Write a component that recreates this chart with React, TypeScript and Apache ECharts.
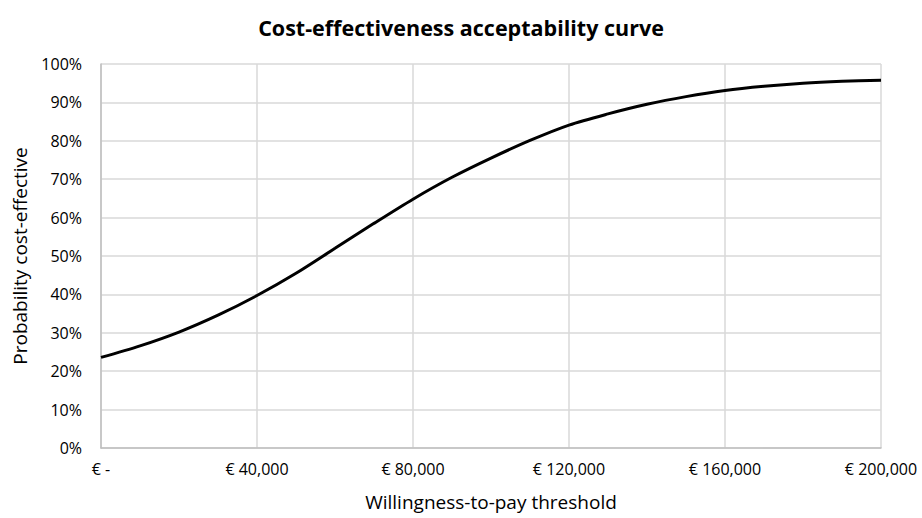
import React, { useEffect, useRef } from "react";
import * as echarts from "echarts";

const thresholds = [0, 10000, 20000, 30000, 40000, 50000, 60000, 70000, 80000, 90000, 100000, 110000, 120000, 130000, 140000, 150000, 160000, 170000, 180000, 190000, 200000];
const probability = [23.6, 26.6, 30.2, 34.6, 39.7, 45.5, 52.0, 58.5, 64.8, 70.5, 75.5, 80.1, 84.1, 87.0, 89.5, 91.5, 93.1, 94.2, 95.0, 95.5, 95.8];

const titleText = "Cost-effectiveness acceptability curve";
const xName = "Willingness-to-pay threshold";
const yName = "Probability cost-effective";

export default function App() {
  const ref = useRef<HTMLDivElement>(null);
  useEffect(() => {
    if (!ref.current) return;
    const chart = echarts.init(ref.current, undefined, { renderer: "svg" });
    const font = "'Open Sans', 'Noto Sans', sans-serif";
    chart.setOption({
      animation: false,
      backgroundColor: "#ffffff",
      title: {
        text: titleText,
        left: "center",
        top: 11,
        textStyle: { fontFamily: font, fontSize: 21.5, fontWeight: "bold", color: "#000000" },
      },
      grid: { left: 101, right: 41, top: 64, bottom: 70, containLabel: false },
      xAxis: {
        type: "value",
        min: 0,
        max: 200000,
        interval: 40000,
        name: xName,
        nameLocation: "middle",
        nameGap: 44,
        nameTextStyle: { fontFamily: font, fontSize: 19, color: "#000000" },
        axisLine: { show: true, lineStyle: { color: "#bfbfbf", width: 1.5 } },
        axisTick: { show: false },
        axisLabel: {
          margin: 13,
          fontFamily: font,
          fontSize: 16,
          color: "#000000",
          formatter: (v: number) => (v === 0 ? "€ -" : "€ " + v.toLocaleString("en-US")),
        },
        splitLine: { show: true, lineStyle: { color: "#d9d9d9", width: 1.5 } },
      },
      yAxis: {
        type: "value",
        min: 0,
        max: 100,
        interval: 10,
        name: yName,
        nameLocation: "middle",
        nameGap: 72,
        nameRotate: 90,
        nameTextStyle: { fontFamily: font, fontSize: 19, color: "#000000" },
        axisLine: { show: true, lineStyle: { color: "#bfbfbf", width: 1.5 } },
        axisTick: { show: false },
        axisLabel: {
          margin: 19,
          fontFamily: font,
          fontSize: 16,
          color: "#000000",
          formatter: "{value}%",
        },
        splitLine: { show: true, lineStyle: { color: "#d9d9d9", width: 1.5 } },
      },
      series: [
        {
          type: "line",
          data: thresholds.map((t, i) => [t, probability[i]]),
          smooth: 0.3,
          showSymbol: false,
          lineStyle: { color: "#000000", width: 3 },
        },
      ],
    });
    return () => chart.dispose();
  }, []);
  return <div ref={ref} style={{ position: "absolute", left: 0, top: 0, width: 922, height: 518 }} />;
}
